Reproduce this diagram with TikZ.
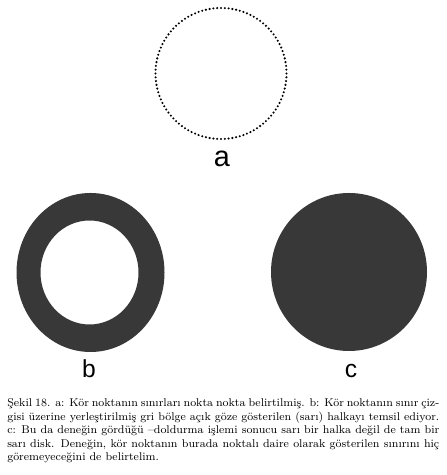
\documentclass[tikz,border=0pt]{standalone}
\usepackage{fontspec}
\usepackage{tikz}
\newfontfamily\lblfont{Liberation Sans}
\definecolor{ringgray}{gray}{0.22}

\tikzset{
  spot/.style={fill=black},
  figlabel/.style={anchor=base,inner sep=0pt,font=\lblfont\fontsize{17.5}{20}\selectfont},
  captext/.style={anchor=base west,inner sep=0pt,text width=10.8cm,align=justify,
    font=\fontsize{8}{9.6}\selectfont}
}

\begin{document}
\begin{tikzpicture}
 \useasboundingbox (0,0) rectangle (11.15,11.875);
 \coordinate (A) at (5.525,10.0375);
 \coordinate (B) at (2.2625,5.0625);
 \coordinate (Bin) at (2.2375,5.0625);
 \coordinate (C) at (8.725,5.075);

 \foreach \i in {0,...,107}
   \fill [spot] (A) ++({\i*10/3}:1.6375) circle (0.029);

 \fill [ringgray,even odd rule] (B) ellipse [x radius=1.85,y radius=1.9875]
   (Bin) ellipse [x radius=1.225,y radius=1.3];
 \fill [ringgray] (C) ellipse [x radius=1.95,y radius=1.975];

 \node (lblA) [figlabel,font=\lblfont\fontsize{20.5}{24}\selectfont] at (5.55,7.7) {a};
 \node (lblB) [figlabel] at (2.225,2.425) {b};
 \node (lblC) [figlabel] at (8.775,2.425) {c};

 \node (caption) [captext] at (0.175,1.7) {\c{S}ekil 18. a: Kör noktanın sınırları nokta nokta belirtilmiş. b: Kör noktanın sınır çiz-\linebreak
 gisi üzerine yerleştirilmiş gri bölge açık göze gösterilen (sarı) halkayı temsil ediyor.\linebreak
 c: Bu da deneğin gördüğü --doldurma işlemi sonucu sarı bir halka değil de tam bir\linebreak
 sarı disk. Deneğin, kör noktanın burada noktalı daire olarak gösterilen sınırını hiç\linebreak
 göremeyeceğini de belirtelim.};
\end{tikzpicture}
\end{document}
